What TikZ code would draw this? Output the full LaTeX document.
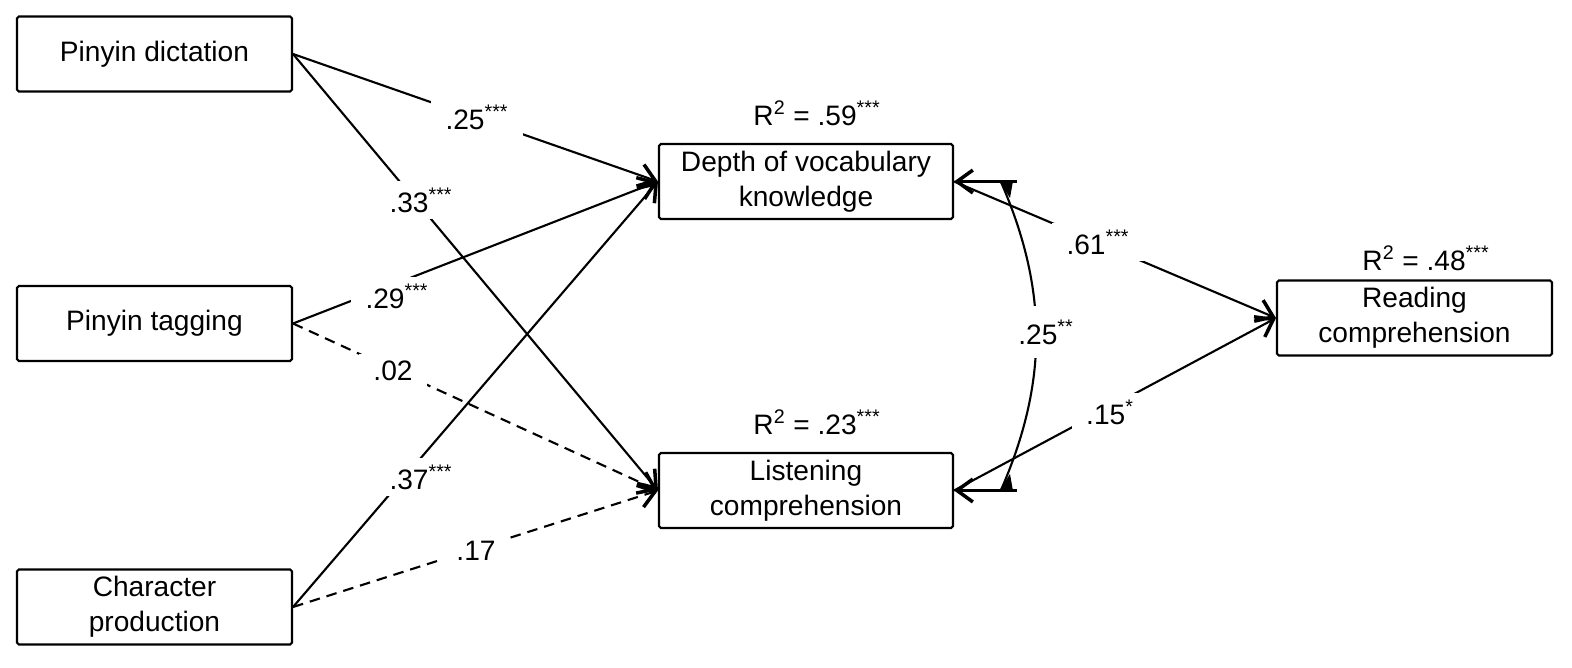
\documentclass[tikz,border=0pt]{standalone}
\usepackage{fontspec}
\setmainfont{Liberation Sans}
\usetikzlibrary{arrows.meta}
\newcommand{\pstar}[1]{\textsuperscript{#1}}
\begin{document}
\begin{tikzpicture}[x=0.02cm,y=-0.02cm,
  box/.style={draw,line width=1.2pt,rounded corners=1pt,minimum width=5.5cm,minimum height=1.5cm,align=center,font=\fontsize{16}{20}\selectfont,inner sep=2pt},
  wbox/.style={box,minimum width=5.88cm},
  conn/.style={line width=1.2pt,-{Straight Barb[length=9pt,width=13pt,line width=2pt]}},
  dconn/.style={conn,dash pattern=on 6pt off 4pt},
  plain/.style={line width=1.2pt},
  lab/.style={fill=white,font=\fontsize{16}{20}\selectfont,inner xsep=8pt,inner ysep=4pt},
  rlab/.style={font=\fontsize{16}{20}\selectfont}]
\useasboundingbox (0,0) rectangle (1572,667);

% boxes
\node[box] (dict) at (154.5,54) {Pinyin dictation};
\node[box] (tag) at (154.5,323.5) {Pinyin tagging};
\node[box] (char) at (154.5,607) {Character\\production};
\node[wbox] (depth) at (806,181.5) {Depth of vocabulary\\knowledge};
\node[wbox] (listen) at (806,490.5) {Listening\\comprehension};
\node[box] (read) at (1414.5,318) {Reading\\comprehension};

% R squared
\node[rlab] (r1) at (817,113) {R\pstar{2} = .59\pstar{***}};
\node[rlab] (r2) at (817,422) {R\pstar{2} = .23\pstar{***}};
\node[rlab] (r3) at (1426,258) {R\pstar{2} = .48\pstar{***}};

% paths
\draw[conn] (dict.east) -- (depth.west);
\draw[conn] (dict.east) -- (listen.west);
\draw[conn] (tag.east) -- (depth.west);
\draw[dconn] (tag.east) -- (listen.west);
\draw[conn] (char.east) -- (depth.west);
\draw[dconn] (char.east) -- (listen.west);
\draw[conn] (depth.east) -- (read.west);
\draw[conn] (listen.east) -- (read.west);

% covariance
\coordinate (ct) at (1017,181.5);
\coordinate (cbm) at (1017,490.5);
\coordinate (ca) at (1001,182);
\coordinate (cb) at (1001,490);
\draw[conn] (ct) -- (depth.east);
\draw[conn] (cbm) -- (listen.east);
\draw[plain] (ca) .. controls (1048,290) and (1048,382) .. (cb);
\fill (999,181) -- (1013,181) -- (1010,198) -- cycle;
\fill (999,491) -- (1013,491) -- (1010,474) -- cycle;

% labels
\node[lab] (l1) at (477,117) {.25\pstar{***}};
\node[lab] (l2) at (421,200) {.33\pstar{***}};
\node[lab] (l3) at (397,296) {.29\pstar{***}};
\node[lab] (l4) at (393,371) {.02};
\node[lab] (l5) at (421,477) {.37\pstar{***}};
\node[lab] (l6) at (476,551) {.17};
\node[lab] (l7) at (1098,242) {.61\pstar{***}};
\node[lab] (l8) at (1110,412) {.15\pstar{*}};
\node[lab,inner xsep=3pt,inner ysep=8pt] (l9) at (1046,332) {.25\pstar{**}};
\end{tikzpicture}
\end{document}
